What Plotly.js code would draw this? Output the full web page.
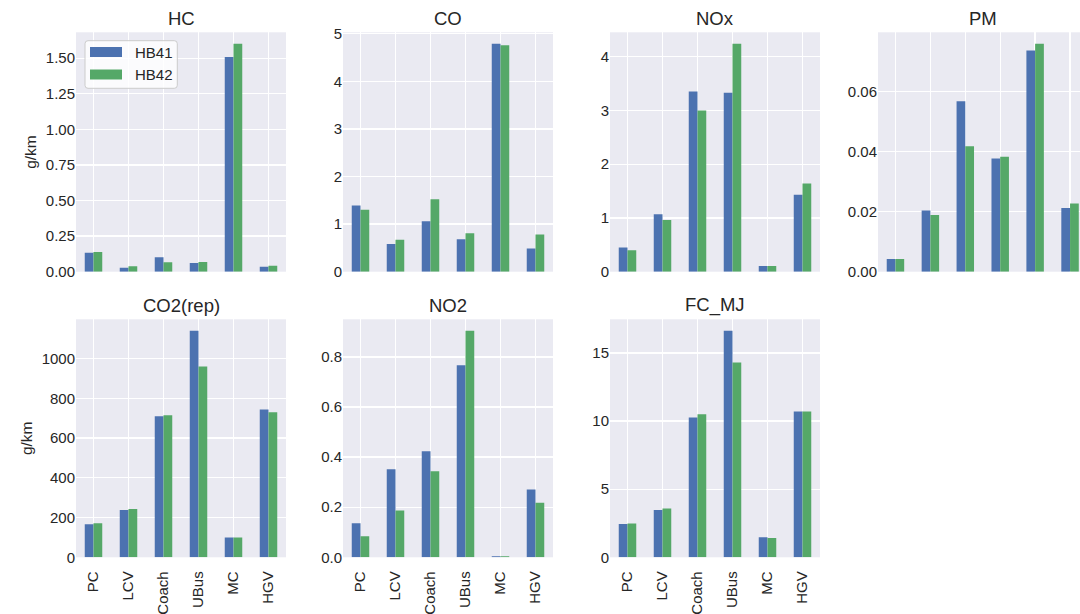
<!DOCTYPE html>
<html>
<head>
<meta charset="utf-8">
<script src="https://cdn.plot.ly/plotly-3.0.1.min.js"></script>
<style>
  html, body { margin: 0; padding: 0; background: #ffffff; }
  #chart { width: 1080px; height: 614px; }
</style>
</head>
<body>
<div id="chart"></div>
<script>
// Vehicle categories on every x axis
const categories = ["PC", "LCV", "Coach", "UBus", "MC", "HGV"];

// Emission factors per pollutant, two handbook versions
const hcHB41   = [0.134, 0.028, 0.101, 0.061, 1.508, 0.035];
const hcHB42   = [0.139, 0.038, 0.066, 0.068, 1.602, 0.042];
const coHB41   = [1.39, 0.58, 1.06, 0.68, 4.79, 0.49];
const coHB42   = [1.30, 0.67, 1.52, 0.81, 4.76, 0.78];
const noxHB41  = [0.45, 1.07, 3.35, 3.33, 0.105, 1.43];
const noxHB42  = [0.40, 0.96, 3.00, 4.24, 0.105, 1.64];
const pmHB41   = [0.0042, 0.0204, 0.0568, 0.0377, 0.0737, 0.0212];
const pmHB42   = [0.0042, 0.0189, 0.0418, 0.0383, 0.0760, 0.0227];
const co2HB41  = [166, 238, 710, 1141, 100, 744];
const co2HB42  = [171, 243, 715, 961, 100, 730];
const no2HB41  = [0.136, 0.352, 0.423, 0.767, 0.004, 0.271];
const no2HB42  = [0.084, 0.187, 0.344, 0.905, 0.004, 0.218];
const fcHB41   = [2.44, 3.47, 10.26, 16.64, 1.47, 10.70];
const fcHB42   = [2.49, 3.59, 10.51, 14.30, 1.41, 10.70];

const seriesNames = ["HB41", "HB42"];
const seriesColors = ["#4C72B0", "#55A868"];

const W = 1080, H = 614;
const px = x => x / W;
const py = y => 1 - y / H;

// Panel definitions: title, data, tick spacing, tick format, pixel box
const panels = [
  { title: "HC",       a: hcHB41,  b: hcHB42,  dtick: 0.25, fmt: ".2f", x0: 76,  x1: 286,  row: 0, ylab: true },
  { title: "CO",       a: coHB41,  b: coHB42,  dtick: 1,    fmt: "d",   x0: 343, x1: 553,  row: 0 },
  { title: "NOx",      a: noxHB41, b: noxHB42, dtick: 1,    fmt: "d",   x0: 610, x1: 820,  row: 0 },
  { title: "PM",       a: pmHB41,  b: pmHB42,  dtick: 0.02, fmt: ".2f", x0: 878, x1: 1080, row: 0, xmax: 5.285 },
  { title: "CO2(rep)", a: co2HB41, b: co2HB42, dtick: 200,  fmt: "d",   x0: 76,  x1: 286,  row: 1, ylab: true },
  { title: "NO2",      a: no2HB41, b: no2HB42, dtick: 0.2,  fmt: ".1f", x0: 343, x1: 553,  row: 1 },
  { title: "FC_MJ",    a: fcHB41,  b: fcHB42,  dtick: 5,    fmt: "d",   x0: 610, x1: 820,  row: 1 }
];
const rows = [ { top: 32.3, bottom: 271.7 }, { top: 319.3, bottom: 557.3 } ];

const textColor = "#262626";
const fontFamily = "'Liberation Sans', Arial, sans-serif";
const tickSize = 15;

const traces = [];
const layout = {
  width: W, height: H,
  margin: { l: 0, r: 0, t: 0, b: 0 },
  paper_bgcolor: "#ffffff",
  plot_bgcolor: "#EAEAF2",
  barmode: "group",
  bargap: 0.5,
  bargroupgap: 0,
  showlegend: false,
  font: { family: fontFamily, size: tickSize, color: textColor },
  annotations: [],
  shapes: []
};

panels.forEach((p, i) => {
  const n = i + 1;
  const xa = n === 1 ? "x" : "x" + n;
  const ya = n === 1 ? "y" : "y" + n;
  const r = rows[p.row];
  [p.a, p.b].forEach((vals, k) => {
    traces.push({
      type: "bar",
      x: categories,
      y: vals,
      name: seriesNames[k],
      marker: { color: seriesColors[k], line: { width: 0 } },
      xaxis: xa, yaxis: ya,
      hoverinfo: "x+y+name"
    });
  });
  const maxVal = Math.max(...p.a, ...p.b);
  layout["xaxis" + (n === 1 ? "" : n)] = {
    domain: [px(p.x0), px(p.x1)],
    anchor: ya,
    type: "category",
    categoryorder: "array",
    categoryarray: categories,
    range: [-0.5, p.xmax !== undefined ? p.xmax : 5.5],
    showgrid: true, gridcolor: "#ffffff", gridwidth: 1.3,
    zeroline: false, showline: false, ticks: "",
    showticklabels: p.row === 1,
    tickangle: -90,
    ticklabelstandoff: 10,
    tickfont: { size: tickSize, color: textColor },
    fixedrange: true
  };
  layout["yaxis" + (n === 1 ? "" : n)] = {
    domain: [py(r.bottom), py(r.top)],
    anchor: xa,
    range: [0, maxVal * 1.05],
    dtick: p.dtick, tick0: 0,
    tickformat: p.fmt,
    showgrid: true, gridcolor: "#ffffff", gridwidth: 1.3,
    zeroline: false, showline: false, ticks: "",
    ticklabelstandoff: 10.5,
    tickfont: { size: tickSize, color: textColor },
    title: p.ylab ? { text: "g/km", font: { size: 15.5, color: textColor }, standoff: 5 } : undefined,
    fixedrange: true
  };
  // Panel title
  layout.annotations.push({
    text: p.title,
    xref: "paper", yref: "paper",
    x: px((p.x0 + (p.xmax !== undefined ? p.x0 + 210 : p.x1)) / 2),
    y: py(r.top - 14),
    xanchor: "center", yanchor: "middle",
    showarrow: false,
    font: { size: 18.5, color: textColor }
  });
});

// Legend box inside the HC panel
(function () {
  const L = 85, T = 40.7, R = 177.3, B = 88.3, rad = 3;
  const path =
    "M " + px(L + rad) + " " + py(T) +
    " L " + px(R - rad) + " " + py(T) +
    " Q " + px(R) + " " + py(T) + " " + px(R) + " " + py(T + rad) +
    " L " + px(R) + " " + py(B - rad) +
    " Q " + px(R) + " " + py(B) + " " + px(R - rad) + " " + py(B) +
    " L " + px(L + rad) + " " + py(B) +
    " Q " + px(L) + " " + py(B) + " " + px(L) + " " + py(B - rad) +
    " L " + px(L) + " " + py(T + rad) +
    " Q " + px(L) + " " + py(T) + " " + px(L + rad) + " " + py(T) + " Z";
  layout.shapes.push({
    type: "path", xref: "paper", yref: "paper", path: path,
    fillcolor: "rgba(255,255,255,0.8)",
    line: { color: "#cccccc", width: 1 },
    layer: "above"
  });
  const rowsY = [[47, 57], [69.5, 79.5]];
  seriesNames.forEach((name, k) => {
    const [y0, y1] = rowsY[k];
    layout.shapes.push({
      type: "rect", xref: "paper", yref: "paper",
      x0: px(90), x1: px(122), y0: py(y1), y1: py(y0),
      fillcolor: seriesColors[k], line: { width: 0 },
      layer: "above"
    });
    layout.annotations.push({
      text: name, xref: "paper", yref: "paper",
      x: px(133), y: py((y0 + y1) / 2),
      xanchor: "left", yanchor: "middle",
      showarrow: false,
      font: { size: 15, color: textColor }
    });
  });
})();

Plotly.newPlot("chart", traces, layout, { displayModeBar: false, staticPlot: true });
</script>
</body>
</html>
